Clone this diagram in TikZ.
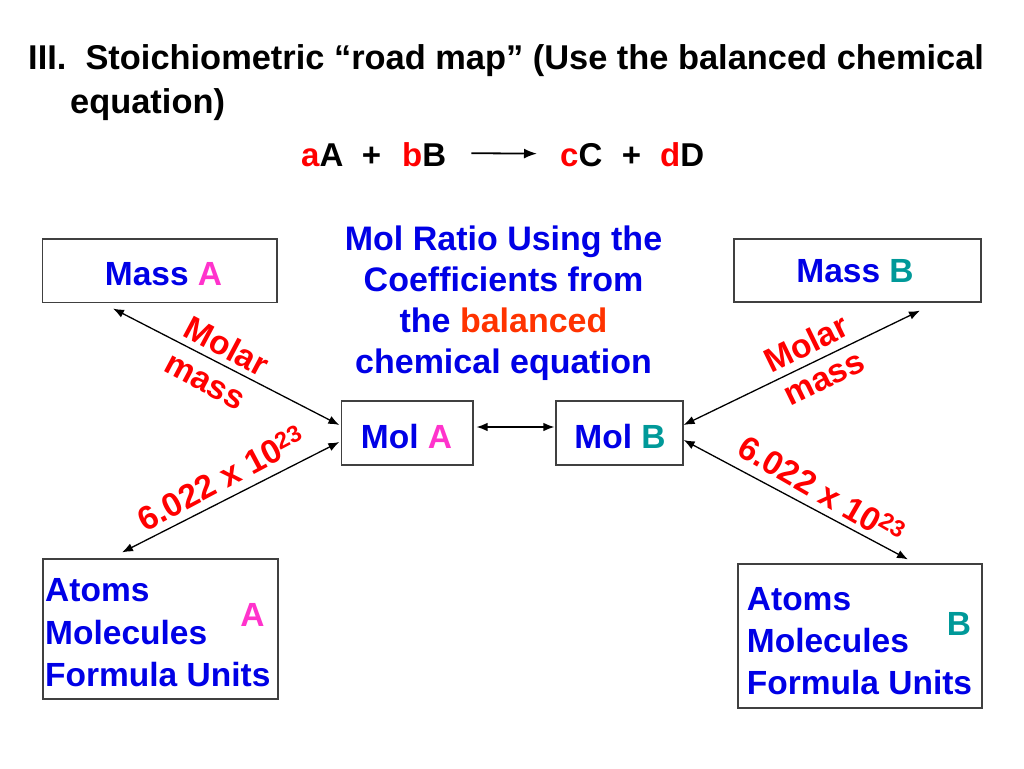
\documentclass[tikz,border=0pt]{standalone}
\usepackage{fontspec}
\setmainfont{Liberation Sans}
\usetikzlibrary{arrows.meta}
\definecolor{tblue}{RGB}{0,0,230}
\definecolor{tpink}{RGB}{255,51,204}
\definecolor{tteal}{RGB}{0,153,153}
\definecolor{tred}{RGB}{255,0,0}
\definecolor{torange}{RGB}{255,51,0}
\definecolor{tgray}{RGB}{64,64,64}
\begin{document}
\begin{tikzpicture}[x=1pt,y=-1pt,
  box/.style={draw=tgray,line width=1.2pt,rectangle,inner sep=0pt},
  txt/.style={inner sep=0pt,anchor=base west,font=\fontsize{33.5}{40}\selectfont\bfseries,text=tblue},
  ctxt/.style={inner sep=0pt,anchor=base,font=\fontsize{34}{40}\selectfont\bfseries,text=tblue},
  eq/.style={inner sep=0pt,anchor=base west,font=\fontsize{33}{40}\selectfont\bfseries},
  lbl/.style={inner sep=0pt,font=\fontsize{33.5}{38}\selectfont\bfseries,text=tred},
  conn/.style={line width=1.3pt,{Latex[length=11pt,width=8.5pt]}-{Latex[length=11pt,width=8.5pt]}}]
\fill[white] (0,0) rectangle (1024,768);
\useasboundingbox (0,0) rectangle (1024,768);

% title
\node[inner sep=0pt,anchor=base west,font=\fontsize{34.4}{40}\selectfont\bfseries] (title1) at (28,70) {III.\ \ Stoichiometric “road map” (Use the balanced chemical};
\node[inner sep=0pt,anchor=base west,font=\fontsize{34.4}{40}\selectfont\bfseries] (title2) at (70,113) {equation)};

% equation
\node[eq] (eqa) at (301,166) {\textcolor{tred}{a}A};
\node[eq,anchor=base] (plus1) at (371.5,166) {+};
\node[eq] (eqb) at (402,166) {\textcolor{tred}{b}B};
\node[eq] (eqc) at (560,166) {\textcolor{tred}{c}C};
\node[eq,anchor=base] (plus2) at (631.5,166) {+};
\node[eq] (eqd) at (660,166) {\textcolor{tred}{d}D};
\draw[line width=1.8pt,-{Latex[length=13pt,width=10pt]}] ([xshift=25pt,yshift=1pt]eqb.east) -- ([xshift=-23pt,yshift=1pt]eqc.west);

% boxes
\node[box,minimum width=234.3pt,minimum height=63.7pt] (massA) at (159.8,270.8) {};
\node[box,minimum width=247pt,minimum height=63pt] (massB) at (857.5,270.5) {};
\node[box,minimum width=131.3pt,minimum height=64pt] (molA) at (407.3,433) {};
\node[box,minimum width=127pt,minimum height=64pt] (molB) at (619.5,433) {};
\node[box,minimum width=235pt,minimum height=140pt] (atomsA) at (160.5,629) {};
\node[box,minimum width=244pt,minimum height=144pt] (atomsB) at (860,636) {};

% box texts
\node[txt,anchor=base] (tmassA) at (163.5,285) {Mass \textcolor{tpink}{A}};
\node[txt,anchor=base] (tmassB) at (855,282.5) {Mass \textcolor{tteal}{B}};
\node[txt,anchor=base] (tmolA) at (406.5,448) {Mol \textcolor{tpink}{A}};
\node[txt,anchor=base] (tmolB) at (620,448) {Mol \textcolor{tteal}{B}};

\node[txt] (aA1) at (45,601.7) {Atoms};
\node[txt] (aA2) at (45,644) {Molecules};
\node[txt] (aA3) at (45,686.7) {Formula Units};
\node[txt,anchor=base,text=tpink] (aAl) at (252.5,626) {A};

\node[txt] (aB1) at (746.7,610) {Atoms};
\node[txt] (aB2) at (746.7,652.3) {Molecules};
\node[txt] (aB3) at (746.7,694.3) {Formula Units};
\node[txt,anchor=base,text=tteal] (aBl) at (959,635) {B};

% center text
\node[ctxt] (c1) at (503.5,250.5) {Mol Ratio Using the};
\node[ctxt] (c2) at (503.5,291.5) {Coefficients from};
\node[ctxt] (c3) at (503.5,332.8) {the \textcolor{torange}{balanced}};
\node[ctxt] (c4) at (503.5,373.3) {chemical equation};

% connectors
\draw[conn] ([xshift=-46.8pt,yshift=-5.3pt]massA.south) -- ([xshift=-1.7pt,yshift=8pt]molA.west);
\draw[conn] ([xshift=-1.7pt,yshift=-9pt]molA.west) -- ([xshift=-38.5pt,yshift=6pt]atomsA.north);
\draw[conn] ([xshift=3pt,yshift=6pt]molA.east) -- ([xshift=-1pt,yshift=6pt]molB.west);
\draw[conn] ([yshift=8pt]molB.east) -- ([xshift=62.5pt,yshift=-8pt]massB.south);
\draw[conn] ([yshift=-7pt]molB.east) -- ([xshift=48pt,yshift=4pt]atomsB.north);

% labels
\node[lbl,rotate=-28] (lmolarA) at (227,346) {Molar};
\node[lbl,rotate=-28] (lmassA) at (204,383) {mass};
\node[lbl,rotate=28] (lavoA) at (221,478) {6.022 x 10\textsuperscript{23}};
\node[lbl,rotate=26] (lmolarB) at (806,343) {Molar};
\node[lbl,rotate=26] (lmassB) at (825,380) {mass};
\node[lbl,rotate=-30] (lavoB) at (822,490) {6.022 x 10\textsuperscript{23}};
\end{tikzpicture}
\end{document}
